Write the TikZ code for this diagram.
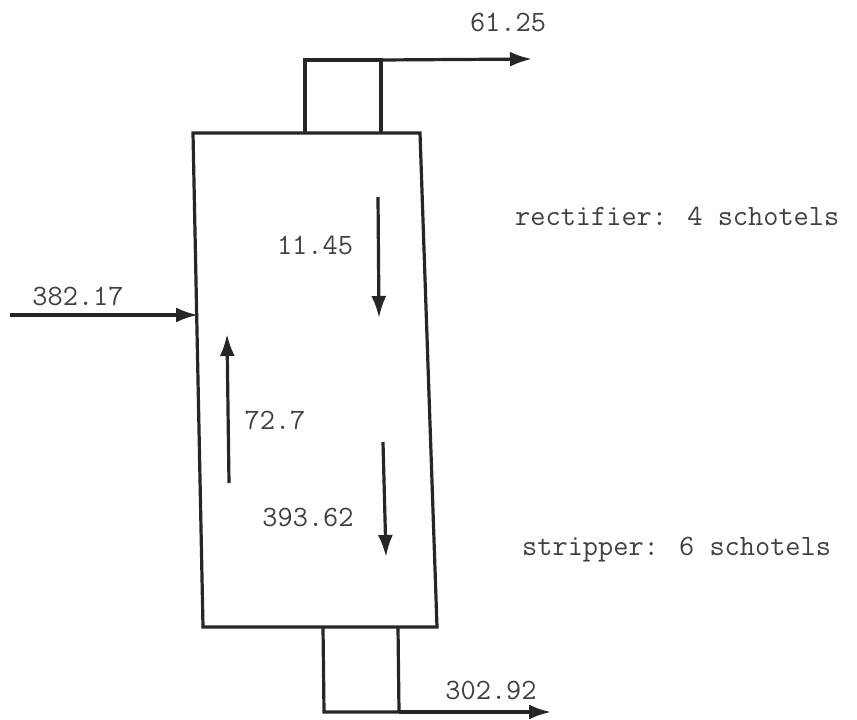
\documentclass[tikz,border=0pt]{standalone}
\usepackage{fontspec}
\usetikzlibrary{arrows.meta}
\begin{document}
\begin{tikzpicture}[x=1pt,y=-1pt,
  line/.style={line width=3.2pt,line join=miter,black!85},
  tip/.style={-{Latex[length=22pt,width=15pt]}},
  lbl/.style={font=\ttfamily\fontsize{29.5}{32}\selectfont,text=black!75,inner sep=0pt}]
\useasboundingbox (0,0) rectangle (857,720);
% column
\coordinate (tl) at (193,133);
\coordinate (tr) at (420,133);
\coordinate (br) at (437,627);
\coordinate (bl) at (203,627);
\draw[line] (tl) -- (tr) -- (br) -- (bl) -- cycle;
% top pipe
\coordinate (t1) at (305,133);
\coordinate (t2) at (381,133);
\coordinate (tc1) at (305,60);
\coordinate (tc2) at (381,60);
\coordinate (tout) at (532,59);
\draw[line] (t1) -- (tc1) -- (tc2) -- (t2);
\draw[line,tip] (tc2) -- (tout);
\node[lbl] (d) at (508,22) {61.25};
% bottom pipe
\coordinate (b1) at (323,627);
\coordinate (b2) at (398,627);
\coordinate (bc1) at (324,712);
\coordinate (bc2) at (399,712);
\coordinate (bout) at (551,712);
\draw[line] (b1) -- (bc1) -- (bc2) -- (b2);
\draw[line,tip] (bc2) -- (bout);
\node[lbl] (w) at (491,690) {302.92};
% feed
\coordinate (fin) at (10,315);
\coordinate (fcol) at (198,315);
\draw[line,tip] (fin) -- (fcol);
\node[lbl] (f) at (78,296) {382.17};
% internal flows
\coordinate (l1a) at (378,197);
\coordinate (l1b) at (379,318);
\draw[line,tip] (l1a) -- (l1b);
\node[lbl] (l1) at (315,245) {11.45};
\coordinate (v1a) at (229,483);
\coordinate (v1b) at (227,334);
\draw[line,tip] (v1a) -- (v1b);
\node[lbl] (v1) at (275,420) {72.7};
\coordinate (l2a) at (383,442);
\coordinate (l2b) at (386,557);
\draw[line,tip] (l2a) -- (l2b);
\node[lbl] (l2) at (308,517) {393.62};
% section labels
\node[lbl,anchor=west] (rect) at (515,216) {rectifier: 4 schotels};
\node[lbl,anchor=west] (strip) at (522,550) {stripper: 6 schotels};
\end{tikzpicture}
\end{document}
